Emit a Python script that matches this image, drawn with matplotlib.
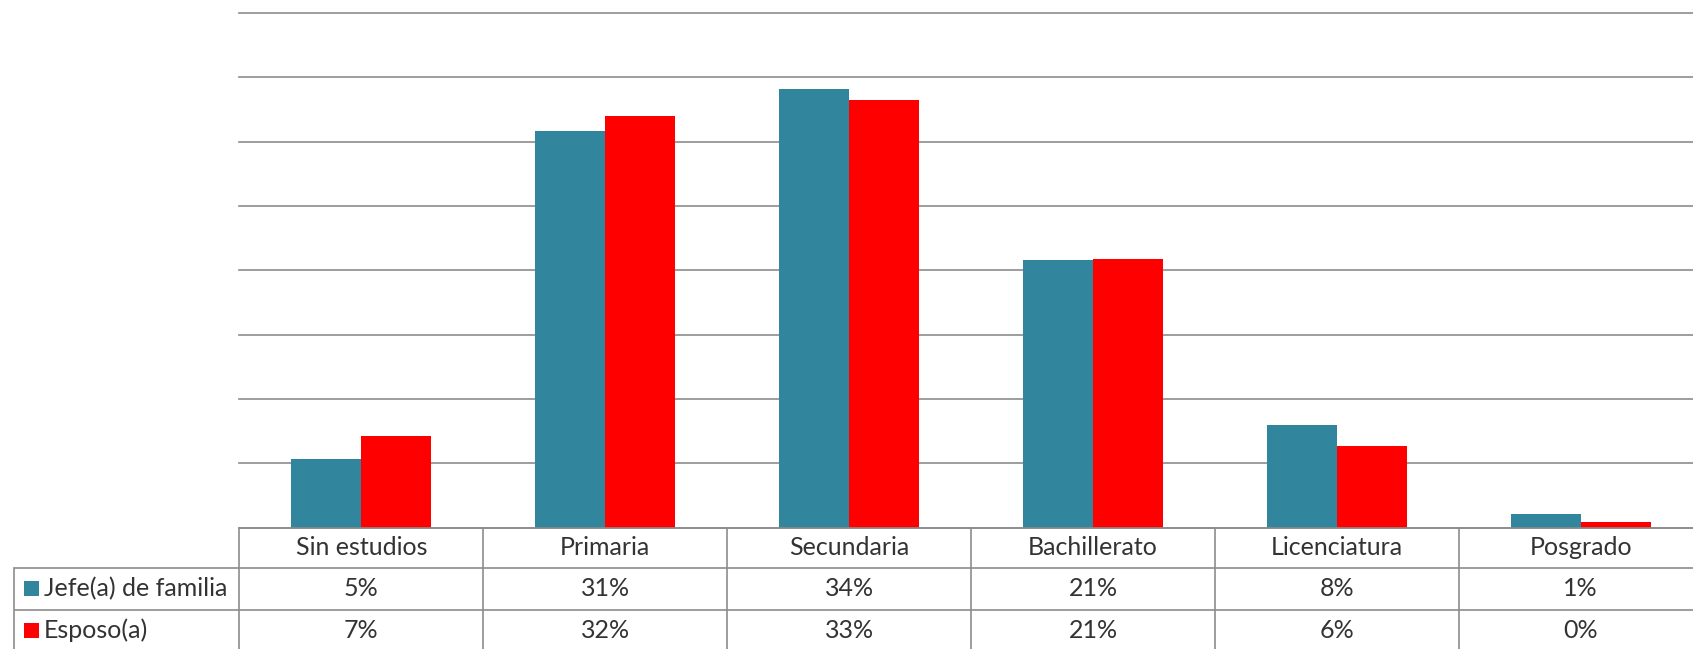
import matplotlib
matplotlib.use("Agg")
import matplotlib.pyplot as plt
from matplotlib import transforms
from matplotlib.patches import Rectangle

categories = ["Sin estudios", "Primaria", "Secundaria", "Bachillerato", "Licenciatura", "Posgrado"]
series_names = ["Jefe(a) de familia", "Esposo(a)"]
jefe = [5.3, 30.8, 34.1, 20.8, 8.0, 1.05]
esposo = [7.1, 32.0, 33.2, 20.9, 6.35, 0.42]
colors = ["#31859C", "#FF0000"]
yticks = [0, 5, 10, 15, 20, 25, 30, 35, 40]

W, H = 1693, 649
fig = plt.figure(figsize=(W / 100, H / 100), dpi=100)
fig.patch.set_facecolor("white")
plt.rcParams["font.family"] = ["Lato", "DejaVu Sans"]

# main axes geometry (pixels)
base_px = 527.7
px_per_unit = 12.87
ytop = 40.3
left_px = 239.3
col_px = 243.9
top_px = base_px - ytop * px_per_unit
ax = fig.add_axes([left_px / W, (H - base_px) / H, (W - left_px) / W, (base_px - top_px) / H])
n = len(categories)
xlim_right = -0.5 + (W - left_px) / col_px
ax.set_xlim(-0.5, xlim_right)
ax.set_ylim(0, ytop)

bw = 0.288
xs = list(range(n))
ax.bar([x - bw / 2 for x in xs], jefe, width=bw, color=colors[0], zorder=3)
ax.bar([x + bw / 2 for x in xs], esposo, width=bw, color=colors[1], zorder=3)

ax.set_yticks(yticks)
ax.yaxis.grid(True, color="#8c8c8c", linewidth=1.2, zorder=0)
ax.set_axisbelow(True)
for s in ax.spines.values():
    s.set_visible(False)
ax.tick_params(left=False, bottom=False, labelleft=False, labelbottom=False)
for gl in ax.get_ygridlines():
    gl.set_clip_on(False)

# table overlay in pixel coords
axt = fig.add_axes([0, 0, 1, 1])
axt.set_xlim(0, W)
axt.set_ylim(H, 0)
axt.axis("off")
blend = transforms.blended_transform_factory(ax.transData, axt.transData)

line_c = "#8c8c8c"
lw = 1.2
row_y = [base_px, 568.0, 609.5]
bottom = H + 5
legend_left = 14
tc = "#333333"
fs = 18

# horizontal lines
axt.plot([left_px, W], [row_y[0], row_y[0]], color=line_c, lw=lw, solid_capstyle="butt")
for y in row_y[1:]:
    axt.plot([legend_left, W], [y, y], color=line_c, lw=lw, solid_capstyle="butt")
# vertical lines
axt.plot([legend_left, legend_left], [row_y[1], bottom], color=line_c, lw=lw)
for i in range(n + 1):
    axt.plot([i - 0.5, i - 0.5], [row_y[0], bottom], color=line_c, lw=lw, transform=blend, clip_on=False)

centers = [(row_y[0] + row_y[1]) / 2, (row_y[1] + row_y[2]) / 2, (row_y[2] + row_y[2] + 41.5) / 2]
for i, c in enumerate(categories):
    axt.text(i, centers[0], c, transform=blend, ha="center", va="center", fontsize=fs, color=tc)
for i, v in enumerate(jefe):
    axt.text(i, centers[1], f"{round(v)}%", transform=blend, ha="center", va="center", fontsize=fs, color=tc)
for i, v in enumerate(esposo):
    axt.text(i, centers[2], f"{round(v)}%", transform=blend, ha="center", va="center", fontsize=fs, color=tc)

for r, (name, col) in enumerate(zip(series_names, colors)):
    yc = centers[r + 1]
    axt.add_patch(Rectangle((24, yc - 7.5), 15, 15, facecolor=col, edgecolor="none"))
    axt.text(44, yc, name, ha="left", va="center", fontsize=fs, color=tc)

fig.savefig("out.png", dpi=100, facecolor="white")
